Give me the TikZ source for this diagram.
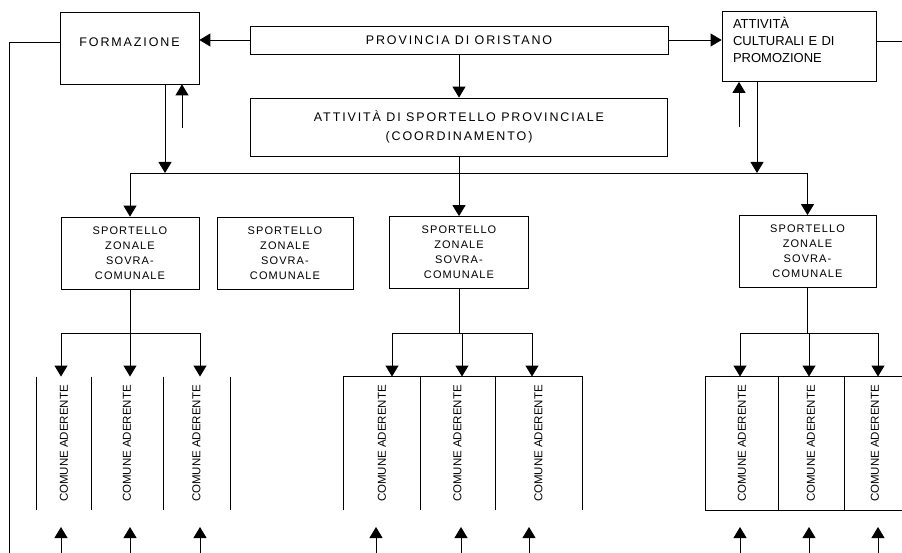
\documentclass[tikz,border=0pt]{standalone}
\usepackage{fontspec}
\setmainfont{Liberation Sans}
\newfontfamily\widefont[LetterSpace=15]{Liberation Sans}
\newfontfamily\zonafont[LetterSpace=10]{Liberation Sans}
\usetikzlibrary{arrows.meta,positioning}

\begin{document}
\begin{tikzpicture}[x=1pt,y=-1pt,line width=0.9pt,
  box/.style={draw,line width=0.8pt,inner sep=0pt,align=center},
  grande/.style={box,font=\widefont\fontsize{12.5}{19}\selectfont},
  zona/.style={box,minimum height=72pt,font=\zonafont\fontsize{11}{15}\selectfont},
  cella/.style={inner sep=0pt,minimum height=133pt,font=\fontsize{11.5}{13}\selectfont},
  >={Triangle[length=11pt,width=13pt]}]
\useasboundingbox (0,0) rectangle (902,553);

% livello provinciale
\node[grande,minimum width=139pt,minimum height=72pt,text depth=12pt] (formazione) at (129.5,48) {FORMAZIONE};
\node[grande,minimum width=418pt,minimum height=28pt] (provincia) at (459,40) {PROVINCIA DI ORISTANO};
\node[box,minimum width=154pt,minimum height=70pt,text width=132pt,align=left,text depth=48pt,
  font=\fontsize{13}{17}\selectfont] (culturali) at (799,46.5) {ATTIVITÀ\\CULTURALI E DI\\PROMOZIONE};
\node[grande,minimum width=417pt,minimum height=58pt] (coord) at (459,127) {ATTIVITÀ DI SPORTELLO PROVINCIALE\\(COORDINAMENTO)};

% sportelli zonali
\node[zona,minimum width=138pt] (sp1) at (130,253) {SPORTELLO\\ZONALE\\SOVRA-\\COMUNALE};
\node[zona,minimum width=136pt] (sp2) at (285,253) {SPORTELLO\\ZONALE\\SOVRA-\\COMUNALE};
\node[zona,minimum width=139pt] (sp3) at (459,252.5) {SPORTELLO\\ZONALE\\SOVRA-\\COMUNALE};
\node[zona,minimum width=137pt] (sp4) at (807.5,251.5) {SPORTELLO\\ZONALE\\SOVRA-\\COMUNALE};

\coordinate (busl) at (130,173);
\coordinate (busr) at (807.5,173);
\coordinate (fin) at (182,128);
\coordinate (cin) at (739,127);
\coordinate (sx) at (9,553);
\coordinate (dx) at (902,41);

\draw[->] (provincia.west) -- (provincia.west -| formazione.east);
\draw[->] (provincia.east) -- (provincia.east -| culturali.west);
\draw[->] (provincia.south) -- (coord.north);
\draw (sx |- formazione.west) ++(0,-6) coordinate (sxa) -- (sx);
\draw (sxa) -- (sxa -| formazione.west);
\draw (dx -| culturali.east) -- (dx);
\draw[->] ([xshift=35.5pt]formazione.south) -- ([xshift=35.5pt]formazione.south |- busl);
\draw[->] (fin) -- (fin |- formazione.south);
\draw[->] ([xshift=-42pt]culturali.south) -- ([xshift=-42pt]culturali.south |- busr);
\draw[->] (cin) -- (cin |- culturali.south);
\draw (busl) -- (busr);
\draw[->] (busl) -- (sp1.north);
\draw[->] (busr) -- (sp4.north);
\draw[->] (coord.south) -- (sp3.north);

% comuni aderenti
\foreach \n/\xc/\w/\xa in {1/64/54/61, 2/127/72/130, 3/196.5/67/200} {
  \node[cella,minimum width=\w pt] (ca\n) at (\xc,443.5) {\rotatebox{90}{COMUNE ADERENTE}};
  \coordinate (ba\n) at (\xa,333);
  \coordinate (ua\n) at (\xa,553);
  \coordinate (pa\n) at (\xa,527);
  \draw[->] (ba\n) -- (ba\n |- ca\n.north);
  \draw[->] (ua\n) -- (pa\n);
  \draw (ca\n.north east) -- (ca\n.south east);
}
\draw (ca1.north west) -- (ca1.south west);
\draw (sp1.south) -- (sp1.south |- ba2);
\draw (ba1) -- (ba3);

\foreach \n/\xc/\w/\xa/\xu in {1/382/76/392/376, 2/457.5/75/462/461, 3/538.5/87/532/529} {
  \node[cella,minimum width=\w pt] (cb\n) at (\xc,443.5) {\rotatebox{90}{COMUNE ADERENTE}};
  \coordinate (bb\n) at (\xa,333);
  \coordinate (ub\n) at (\xu,553);
  \coordinate (pb\n) at (\xu,527);
  \draw[->] (bb\n) -- (bb\n |- cb\n.north);
  \draw[->] (ub\n) -- (pb\n);
}
\draw (cb1.south west) |- (cb3.north east) -- (cb3.south east);
\draw (cb1.north east) -- (cb1.south east);
\draw (cb2.north east) -- (cb2.south east);
\draw (sp3.south) -- (sp3.south |- bb2);
\draw (bb1) -- (bb3);

\foreach \n/\xc/\w/\xa in {1/742/72/740, 2/811/66/809, 3/875/62/878} {
  \node[cella,minimum width=\w pt] (cc\n) at (\xc,443.5) {\rotatebox{90}{COMUNE ADERENTE}};
  \coordinate (bc\n) at (\xa,333);
  \coordinate (uc\n) at (\xa,553);
  \coordinate (pc\n) at (\xa,527);
  \draw[->] (bc\n) -- (bc\n |- cc\n.north);
  \draw[->] (uc\n) -- (pc\n);
}
\draw (cc1.north west) rectangle (cc3.south east);
\draw (cc1.north east) -- (cc1.south east);
\draw (cc2.north east) -- (cc2.south east);
\draw (sp4.south) -- (sp4.south |- bc2);
\draw (bc1) -- (bc3);
\end{tikzpicture}
\end{document}
